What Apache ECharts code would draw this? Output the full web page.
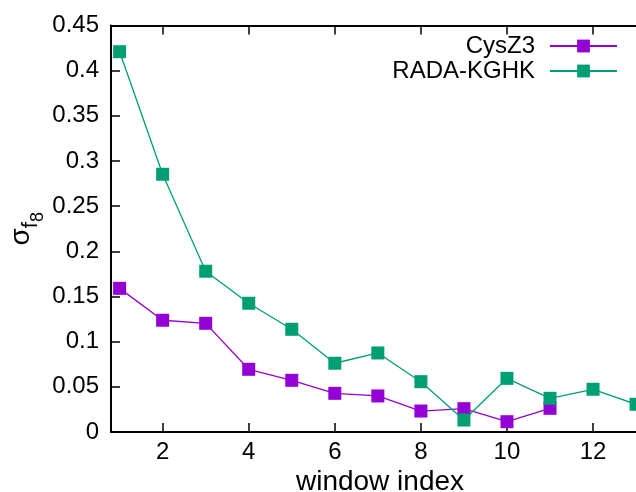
<!DOCTYPE html>
<html>
<head>
<meta charset="utf-8">
<script src="https://cdn.jsdelivr.net/npm/echarts@6/dist/echarts.min.js"></script>
<style>
  html, body { margin: 0; padding: 0; background: #fff; }
  #chart { width: 636px; height: 492px; }
</style>
</head>
<body>
<div id="chart"></div>
<script>
// window index of each point
var windowIdx = [1, 2, 3, 4, 5, 6, 7, 8, 9, 10, 11, 12, 13];
// sigma values
var cysZ3 = [0.159, 0.1237, 0.1203, 0.0694, 0.0572, 0.0428, 0.0399, 0.0232, 0.0258, 0.0114, 0.0262];
var radaKGHK = [0.421, 0.2853, 0.178, 0.1425, 0.1137, 0.0761, 0.0875, 0.0557, 0.0133, 0.0594, 0.0373, 0.0473, 0.0307];
// tick labels
var xTicks = [2, 4, 6, 8, 10, 12];
var yTicks = [0, 0.05, 0.1, 0.15, 0.2, 0.25, 0.3, 0.35, 0.4, 0.45];

var font = "'Liberation Sans', Arial, sans-serif";

function pairs(vals) {
    return vals.map(function (v, i) { return [windowIdx[i], v]; });
}

var chart = echarts.init(document.getElementById('chart'));

var option = {
    animation: false,
    backgroundColor: '#fff',
    textStyle: { fontFamily: font, color: '#000' },
    grid: { left: 111, top: 25.5, right: -13, bottom: 60, containLabel: false, outerBoundsMode: 'none' },
    legend: {
        orient: 'vertical',
        right: 18,
        top: 34,
        padding: 0,
        align: 'right',
        itemWidth: 67,
        itemHeight: 16,
        itemGap: 1,
        formatter: function (name) { return '{t|' + name + '}'; },
        textStyle: {
            fontSize: 24, color: '#000', fontFamily: font,
            rich: { t: { fontSize: 24, color: '#000', fontFamily: font, padding: [0, 10, 0, 0] } }
        },
        data: ['CysZ3', 'RADA-KGHK']
    },
    xAxis: [
        {
            type: 'value',
            min: 0.8,
            max: 13.3,
            name: 'window index',
            nameLocation: 'middle',
            nameGap: 36,
            nameMoveOverlap: false,
            nameTextStyle: { fontSize: 28, color: '#000', fontFamily: font },
            splitLine: { show: false },
            axisLine: { onZero: false, lineStyle: { color: '#000', width: 2 } },
            axisTick: { inside: true, length: 9, customValues: xTicks, lineStyle: { color: '#000', width: 1.5 } },
            axisLabel: { customValues: xTicks, fontSize: 24, color: '#000', margin: 8, fontFamily: font }
        },
        {
            type: 'value',
            position: 'top',
            min: 0.8,
            max: 13.3,
            splitLine: { show: false },
            axisLine: { onZero: false, lineStyle: { color: '#000', width: 2 } },
            axisTick: { inside: true, length: 9, customValues: xTicks, lineStyle: { color: '#000', width: 1.5 } },
            axisLabel: { show: false }
        }
    ],
    yAxis: {
        type: 'value',
        min: 0,
        max: 0.45,
        name: '{s|σ}{f|f}{e|8}',
        nameLocation: 'middle',
        nameRotate: 90,
        nameGap: 76,
        nameMoveOverlap: false,
        nameTextStyle: {
            color: '#000',
            fontFamily: font,
            rich: {
                s: { fontSize: 28, lineHeight: 28, verticalAlign: 'top', fontFamily: font },
                f: { fontSize: 22, lineHeight: 22, verticalAlign: 'top', padding: [13, 0, 0, 0], fontFamily: font },
                e: { fontSize: 18, lineHeight: 18, verticalAlign: 'top', padding: [22, 0, 0, 0], fontFamily: font }
            }
        },
        splitLine: { show: false },
        axisLine: { show: true, onZero: false, lineStyle: { color: '#000', width: 2 } },
        axisTick: { show: true, inside: true, length: 9, customValues: yTicks, lineStyle: { color: '#000', width: 1.5 } },
        axisLabel: {
            customValues: yTicks,
            fontSize: 24,
            color: '#000',
            margin: 12,
            fontFamily: font,
            formatter: function (v) { return String(+v.toFixed(2)); }
        }
    },
    series: [
        {
            name: 'CysZ3',
            type: 'line',
            data: pairs(cysZ3),
            symbol: 'rect',
            symbolSize: 13,
            color: '#9400d3',
            lineStyle: { width: 1.3, color: '#9400d3' },
            itemStyle: { color: '#9400d3' }
        },
        {
            name: 'RADA-KGHK',
            type: 'line',
            data: pairs(radaKGHK),
            symbol: 'rect',
            symbolSize: 13,
            color: '#009e73',
            lineStyle: { width: 1.3, color: '#009e73' },
            itemStyle: { color: '#009e73' }
        }
    ]
};

chart.setOption(option);
</script>
</body>
</html>
